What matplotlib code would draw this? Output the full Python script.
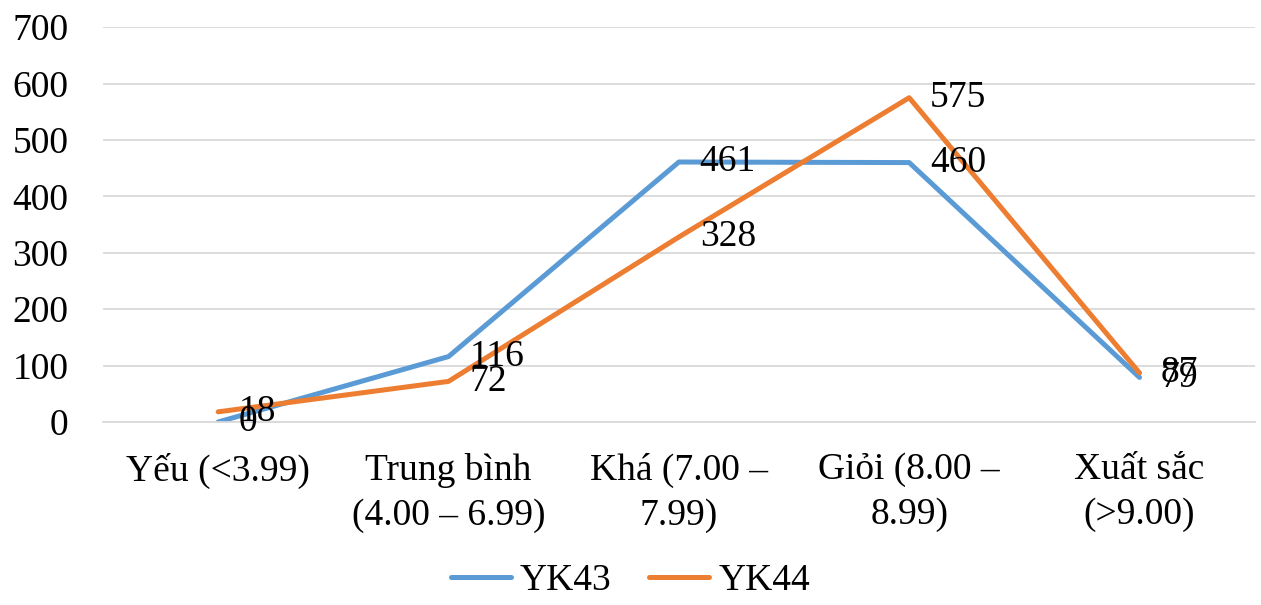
import matplotlib.pyplot as plt

plt.rcParams['font.family'] = ['Liberation Serif', 'DejaVu Serif']

categories = ['Yếu (<3.99)', 'Trung bình\n(4.00 – 6.99)', 'Khá (7.00 –\n7.99)',
              'Giỏi (8.00 –\n8.99)', 'Xuất sắc\n(>9.00)']
yk43 = [0, 116, 461, 460, 79]
yk44 = [18, 72, 328, 575, 87]
series = [('YK43', yk43, '#5B9BD5'), ('YK44', yk44, '#ED7D31')]

fs = 27
fig = plt.figure(figsize=(12.61, 6.05), dpi=100)
ax = fig.add_axes([0.0817, 0.3025, 0.9133, 0.6525])

x = list(range(len(categories)))
for name, vals, col in series:
    ax.plot(x, vals, color=col, lw=3.6, label=name, solid_capstyle='round')
    for xi, v in zip(x, vals):
        ax.annotate(str(v), (xi, v), xytext=(15, 0), textcoords='offset points',
                    ha='left', va='center', fontsize=fs)

ax.set_xlim(-0.5, len(categories) - 0.5)
ax.set_ylim(0, 700)
ax.set_yticks(range(0, 701, 100))
ax.set_xticks(x)
ax.set_xticklabels(categories, fontsize=fs, linespacing=1.4)
ax.tick_params(axis='y', labelsize=fs, length=0, pad=25)
ax.tick_params(axis='x', length=0, pad=22)
ax.grid(axis='y', color='#D9D9D9', lw=1.3)
ax.set_axisbelow(True)
for s in ['top', 'right', 'left']:
    ax.spines[s].set_visible(False)
ax.spines['bottom'].set_color('#D9D9D9')
ax.spines['bottom'].set_linewidth(1.3)

fig.legend(loc='lower center', ncol=2, frameon=False, fontsize=fs,
           bbox_to_anchor=(0.5, -0.045), handlelength=1.6, columnspacing=1.0,
           handletextpad=0.25)

fig.savefig('out.png')
